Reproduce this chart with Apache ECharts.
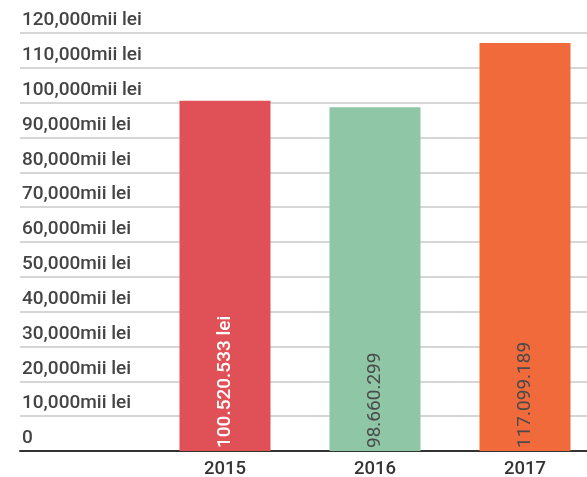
<!DOCTYPE html>
<html>
<head>
<meta charset="utf-8">
<script src="https://cdn.jsdelivr.net/npm/echarts@6/dist/echarts.min.js"></script>
<style>
  html, body { margin: 0; padding: 0; background: #fff; }
  #chart { width: 587px; height: 477px; }
</style>
</head>
<body>
<div id="chart"></div>
<script>
// date (mii lei)
const years = ["2015", "2016", "2017"];
const values = [100520.533, 98660.299, 117099.189];
const barLabels = ["100.520.533 lei", "98.660.299", "117.099.189"];
const barColors = ["#df5157", "#8fc6a6", "#f06a3b"];
const labelColors = ["#ffffff", "#4a4a4a", "#4a4a4a"];

const chart = echarts.init(document.getElementById("chart"));

chart.setOption({
  animation: false,
  textStyle: { fontFamily: "Roboto" },
  grid: [
    // grila de fundal, cu etichetele axei Y
    { left: 20, right: 0, top: 33, bottom: 26, outerBoundsMode: "none" },
    // grila cu barele (iese putin din imagine in dreapta)
    { left: 150, width: 450, top: 33, bottom: 26, outerBoundsMode: "none" },
  ],
  xAxis: [
    {
      gridIndex: 0,
      type: "value",
      min: 0,
      max: 1,
      axisLine: { show: true, lineStyle: { color: "#333", width: 2 } },
      axisTick: { show: false },
      axisLabel: { show: false },
      splitLine: { show: false },
    },
    {
      gridIndex: 1,
      type: "category",
      data: years,
      axisLine: { show: false },
      axisTick: { show: false },
      axisLabel: {
        color: "#333",
        fontSize: 18.5,
        fontWeight: 500,
        margin: 9,
      },
    },
  ],
  yAxis: [
    {
      gridIndex: 0,
      type: "value",
      min: 0,
      max: 120000,
      interval: 10000,
      axisLine: { show: false },
      axisTick: { show: false },
      axisLabel: {
        inside: true,
        margin: 2,
        align: "left",
        verticalAlign: "bottom",
        padding: [0, 0, 3, 0],
        color: "#444",
        fontSize: 19,
        fontWeight: 500,
        formatter: function (v) {
          return v === 0 ? "0" : v.toLocaleString("en-US") + "mii lei";
        },
      },
      splitLine: { lineStyle: { color: "#c8c8c8", width: 1.5 } },
    },
    {
      gridIndex: 1,
      type: "value",
      min: 0,
      max: 120000,
      interval: 10000,
      show: false,
    },
  ],
  series: [
    {
      type: "bar",
      xAxisIndex: 1,
      yAxisIndex: 1,
      barWidth: 91,
      data: values.map(function (v, i) {
        return {
          value: v,
          itemStyle: { color: barColors[i] },
          label: {
            color: labelColors[i],
            fontWeight: i === 0 ? 500 : 400,
          },
        };
      }),
      label: {
        show: true,
        position: "insideBottom",
        rotate: 90,
        align: "left",
        verticalAlign: "middle",
        distance: 3,
        fontSize: 19,
        formatter: function (p) {
          return barLabels[p.dataIndex];
        },
      },
    },
  ],
});
</script>
</body>
</html>
